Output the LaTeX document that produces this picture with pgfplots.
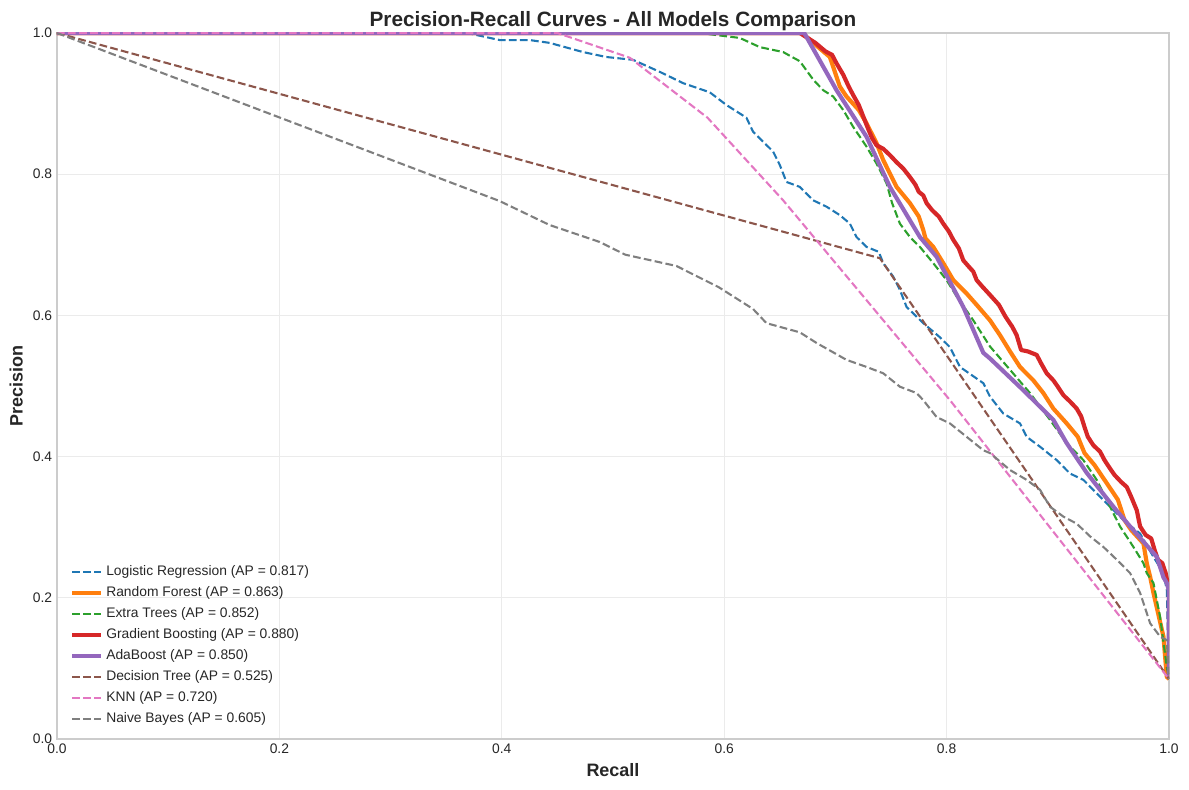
\documentclass[border=0pt]{standalone}
\usepackage{pgfplots}
\pgfplotsset{compat=1.18}
\usepackage{fontspec}
\setmainfont{Liberation Sans}
\definecolor{tabblue}{HTML}{1F77B4}
\definecolor{taborange}{HTML}{FF7F0E}
\definecolor{tabgreen}{HTML}{2CA02C}
\definecolor{tabred}{HTML}{D62728}
\definecolor{tabpurple}{HTML}{9467BD}
\definecolor{tabbrown}{HTML}{8C564B}
\definecolor{tabpink}{HTML}{E377C2}
\definecolor{tabgray}{HTML}{7F7F7F}
\definecolor{gridc}{HTML}{EBEBEB}
\definecolor{edgec}{HTML}{CCCCCC}
\definecolor{txt}{HTML}{262626}
\begin{document}
\begin{tikzpicture}
\path[use as bounding box] (-41.04bp,-36.72bp) rectangle (815.04bp,532.08bp);
\begin{axis}[
  at={(0,0)}, anchor=south west,
  scale only axis, width=800.64bp, height=508.32bp,
  xmin=0, xmax=1, ymin=0, ymax=1,
  xtick={0,0.2,0.4,0.6,0.8,1.0}, ytick={0,0.2,0.4,0.6,0.8,1.0},
  xticklabels={0.0,0.2,0.4,0.6,0.8,1.0},
  yticklabels={0.0,0.2,0.4,0.6,0.8,1.0},
  major tick length=0pt,
  tick label style={font=\fontsize{10}{12}\selectfont, text=txt},
  grid=major, major grid style={draw=gridc, line width=0.8bp},
  axis line style={draw=edgec, line width=0.9bp},
  every axis title shift=0pt,
  title={Precision-Recall Curves - All Models Comparison},
  title style={font=\bfseries\fontsize{15}{18}\selectfont, text=txt, at={(0.5,1.0098)}, anchor=base, inner sep=0pt},
  xlabel={Recall}, ylabel={Precision},
  xlabel style={font=\bfseries\fontsize{13}{15}\selectfont, text=txt, at={(0.5,-0.034)}, anchor=north, inner sep=0pt},
  ylabel style={font=\bfseries\fontsize{13}{15}\selectfont, text=txt, at={(-0.0306,0.5)}, anchor=south, inner sep=0pt},
  legend style={draw=none, fill=none, at={(0.008,0.0092)}, anchor=south west,
    font=\fontsize{10}{12}\selectfont, text=txt, row sep=0pt,
    nodes={inner xsep=2bp, inner ysep=2.3bp, text height=8bp, text depth=2.5bp}},
  legend cell align=left,
  legend image code/.code={\draw[#1] (0bp,0bp) -- (20.9bp,0bp);},
  every axis plot/.append style={line join=round},
]
\addplot[tabblue, line width=1.5bp, dash pattern=on 5.55bp off 2.4bp] coordinates {
(0,1)(0.369,1)(0.398,0.99)(0.425,0.99)(0.443,0.986)(0.473,0.973)(0.494,0.966)(0.518,0.962)(0.542,0.945)(0.563,0.929)(0.587,0.916)(0.602,0.898)(0.620,0.880)(0.626,0.860)(0.644,0.832)(0.650,0.813)(0.656,0.789)(0.668,0.782)(0.680,0.763)(0.692,0.754)(0.704,0.742)(0.713,0.730)(0.719,0.711)(0.728,0.697)(0.739,0.690)(0.743,0.674)(0.752,0.655)(0.758,0.636)(0.764,0.612)(0.779,0.589)(0.794,0.569)(0.803,0.555)(0.812,0.527)(0.833,0.504)(0.839,0.485)(0.851,0.461)(0.866,0.447)(0.872,0.428)(0.884,0.414)(0.899,0.395)(0.911,0.376)(0.923,0.367)(0.935,0.348)(0.947,0.329)(0.959,0.310)(0.974,0.291)(0.986,0.258)(0.995,0.235)(0.998,0.211)(1,0.085)};
\addlegendentry{Logistic Regression (AP = 0.817)}
\addplot[taborange, line width=3bp] coordinates {
(0,1)(0.670,1)(0.686,0.978)(0.695,0.966)(0.698,0.952)(0.704,0.924)(0.710,0.910)(0.721,0.891)(0.728,0.872)(0.737,0.844)(0.743,0.820)(0.749,0.801)(0.755,0.782)(0.767,0.759)(0.775,0.740)(0.779,0.721)(0.781,0.709)(0.788,0.697)(0.797,0.674)(0.806,0.650)(0.818,0.631)(0.827,0.615)(0.839,0.593)(0.848,0.572)(0.857,0.549)(0.866,0.527)(0.878,0.508)(0.887,0.490)(0.896,0.468)(0.908,0.447)(0.918,0.428)(0.924,0.405)(0.933,0.388)(0.942,0.367)(0.954,0.339)(0.960,0.310)(0.966,0.296)(0.977,0.277)(0.980,0.249)(0.983,0.230)(0.986,0.207)(0.995,0.145)(0.998,0.088)(1,0.085)};
\addlegendentry{Random Forest (AP = 0.863)}
\addplot[tabgreen, line width=1.5bp, dash pattern=on 5.55bp off 2.4bp] coordinates {
(0,1)(0.578,1)(0.614,0.993)(0.632,0.980)(0.653,0.973)(0.668,0.960)(0.680,0.934)(0.689,0.919)(0.698,0.910)(0.707,0.891)(0.716,0.867)(0.728,0.839)(0.737,0.815)(0.746,0.787)(0.751,0.759)(0.758,0.730)(0.767,0.711)(0.776,0.697)(0.788,0.674)(0.800,0.650)(0.809,0.627)(0.824,0.593)(0.839,0.556)(0.857,0.523)(0.875,0.490)(0.893,0.452)(0.908,0.419)(0.923,0.395)(0.935,0.367)(0.947,0.329)(0.956,0.301)(0.968,0.272)(0.977,0.249)(0.980,0.235)(0.986,0.221)(0.992,0.173)(0.998,0.102)(1,0.085)};
\addlegendentry{Extra Trees (AP = 0.852)}
\addplot[tabred, line width=3bp] coordinates {
(0,1)(0.668,1)(0.682,0.986)(0.691,0.974)(0.697,0.969)(0.701,0.957)(0.707,0.941)(0.712,0.924)(0.716,0.912)(0.721,0.898)(0.724,0.886)(0.727,0.874)(0.730,0.862)(0.733,0.851)(0.737,0.841)(0.743,0.836)(0.749,0.827)(0.755,0.817)(0.761,0.808)(0.767,0.796)(0.772,0.785)(0.775,0.775)(0.779,0.770)(0.782,0.759)(0.787,0.749)(0.793,0.740)(0.797,0.730)(0.802,0.719)(0.806,0.707)(0.811,0.695)(0.815,0.678)(0.820,0.669)(0.824,0.662)(0.827,0.650)(0.832,0.641)(0.839,0.629)(0.847,0.615)(0.853,0.598)(0.859,0.584)(0.863,0.572)(0.867,0.551)(0.873,0.549)(0.881,0.544)(0.885,0.532)(0.890,0.518)(0.896,0.508)(0.900,0.499)(0.905,0.487)(0.911,0.478)(0.917,0.468)(0.921,0.457)(0.924,0.442)(0.927,0.428)(0.932,0.416)(0.938,0.407)(0.942,0.395)(0.947,0.383)(0.951,0.374)(0.957,0.364)(0.962,0.357)(0.966,0.343)(0.971,0.324)(0.974,0.301)(0.979,0.289)(0.984,0.284)(0.987,0.268)(0.990,0.254)(0.994,0.249)(0.997,0.235)(1,0.211)(1,0.085)};
\addlegendentry{Gradient Boosting (AP = 0.880)}
\addplot[tabpurple, line width=3bp] coordinates {
(0,1)(0.672,1)(0.701,0.919)(0.728,0.853)(0.749,0.782)(0.776,0.711)(0.791,0.683)(0.815,0.612)(0.833,0.547)(0.839,0.539)(0.869,0.494)(0.896,0.452)(0.908,0.419)(0.926,0.377)(0.950,0.329)(0.965,0.301)(0.989,0.258)(0.995,0.229)(0.998,0.221)(1,0.21)(1,0.085)};
\addlegendentry{AdaBoost (AP = 0.850)}
\addplot[tabbrown, line width=1.5bp, dash pattern=on 5.55bp off 2.4bp] coordinates {
(0,1)(0.740,0.681)(1,0.085)};
\addlegendentry{Decision Tree (AP = 0.525)}
\addplot[tabpink, line width=1.5bp, dash pattern=on 5.55bp off 2.4bp] coordinates {
(0,1)(0.45,1)(0.515,0.965)(0.585,0.88)(0.653,0.763)(0.803,0.48)(1,0.085)};
\addlegendentry{KNN (AP = 0.720)}
\addplot[tabgray, line width=1.5bp, dash pattern=on 5.55bp off 2.4bp] coordinates {
(0,1)(0.398,0.762)(0.443,0.728)(0.488,0.704)(0.511,0.686)(0.557,0.670)(0.595,0.640)(0.626,0.609)(0.638,0.589)(0.668,0.576)(0.683,0.561)(0.710,0.537)(0.728,0.527)(0.743,0.518)(0.758,0.499)(0.773,0.490)(0.779,0.480)(0.791,0.456)(0.803,0.447)(0.833,0.409)(0.839,0.405)(0.857,0.381)(0.872,0.367)(0.884,0.353)(0.893,0.329)(0.905,0.315)(0.917,0.305)(0.929,0.287)(0.941,0.272)(0.953,0.254)(0.965,0.235)(0.974,0.207)(0.983,0.164)(0.992,0.145)(0.998,0.140)(1,0.085)};
\addlegendentry{Naive Bayes (AP = 0.605)}
\end{axis}
\end{tikzpicture}
\end{document}
